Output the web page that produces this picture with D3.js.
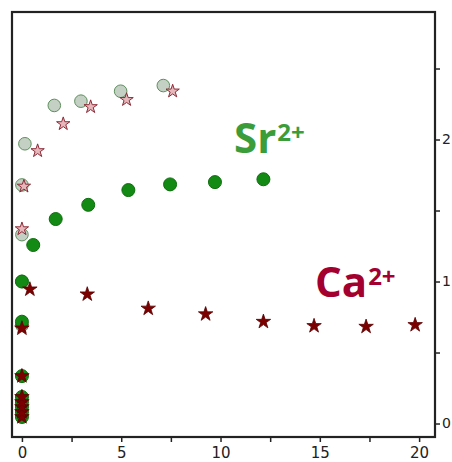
<!DOCTYPE html>
<html>
<head>
<meta charset="utf-8">
<script src="https://cdn.jsdelivr.net/npm/d3@7.9.0/dist/d3.min.js"></script>
<style>
  body { margin: 0; background: #fff; }
  svg { display: block; }
  .tick text { font-family: "DejaVu Sans", sans-serif; font-size: 15px; fill: #222; }
  .yaxis .tick text { font-size: 14px; }
  .tick line { stroke: #222; stroke-width: 1.5; }
</style>
</head>
<body>
<svg id="chart" width="452" height="462"></svg>
<script>
// light Sr points (grey circles)
const greyT = [0, 0, 0.15, 1.63, 2.97, 4.97, 7.12, 0, 0];
const greyV = [1.33, 1.68, 1.97, 2.24, 2.27, 2.34, 2.38, 1.0, 0.69];

// light Ca points (pink stars)
const pinkT = [0, 0.1, 0.79, 2.08, 3.46, 5.27, 7.59, 0];
const pinkV = [1.37, 1.67, 1.92, 2.11, 2.23, 2.28, 2.34, 0.68];

// Sr2+ (green circles)
const greenT = [0, 0, 0, 0, 0, 0, 0, 0, 0.57, 1.70, 3.34, 5.36, 7.46, 9.72, 12.16];
const greenV = [0.046, 0.081, 0.116, 0.151, 0.187, 0.334, 0.717, 1.0, 1.257, 1.44, 1.54, 1.644, 1.684, 1.70, 1.72];

// Ca2+ (dark red stars)
const redT = [0, 0, 0, 0, 0, 0, 0, 0.4, 3.29, 6.36, 9.25, 12.16, 14.71, 17.33, 19.8];
const redV = [0.046, 0.081, 0.116, 0.151, 0.187, 0.334, 0.67, 0.945, 0.91, 0.81, 0.77, 0.717, 0.687, 0.682, 0.694];

const xMajor = [0, 5, 10, 15, 20];
const xMinor = [2.5, 7.5, 12.5, 17.5];
const yMajor = [0, 1, 2];
const yMinor = [0.5, 1.5, 2.5];

const svg = d3.select('#chart');
const plotLeft = 12, plotRight = 435, plotTop = 12, plotBottom = 437;

const x = d3.scaleLinear().domain([-0.5, 20.8]).range([plotLeft, plotRight]);
const y = d3.scaleLinear().domain([-0.095, 2.898]).range([plotBottom, plotTop]);

// frame
svg.append('rect')
  .attr('x', plotLeft).attr('y', plotTop)
  .attr('width', plotRight - plotLeft).attr('height', plotBottom - plotTop)
  .attr('fill', 'none').attr('stroke', '#222').attr('stroke-width', 2.2);

// bottom axis
const gx = svg.append('g').attr('transform', `translate(0,${plotBottom})`);
gx.call(d3.axisBottom(x).tickValues(xMajor).tickSize(5).tickPadding(5));
gx.append('g').call(d3.axisBottom(x).tickValues(xMinor).tickSize(5).tickFormat(''));
gx.selectAll('.domain').remove();

// right axis
const gy = svg.append('g').attr('class', 'yaxis').attr('transform', `translate(${plotRight},0)`);
gy.call(d3.axisRight(y).tickValues(yMajor).tickSize(5).tickPadding(2));
gy.append('g').call(d3.axisRight(y).tickValues(yMinor).tickSize(5).tickFormat(''));
gy.selectAll('.domain').remove();

const star = (r) => d3.symbol().type(d3.symbolStar).size(r * r / 0.8908)();

// grey circles
svg.append('g').selectAll('circle')
  .data(d3.zip(greyT, greyV))
  .enter().append('circle')
  .attr('cx', d => x(d[0])).attr('cy', d => y(d[1]))
  .attr('r', 6.3)
  .attr('fill', '#c3d0c3').attr('stroke', '#5e8f5e').attr('stroke-width', 1);

// pink stars
svg.append('g').selectAll('path')
  .data(d3.zip(pinkT, pinkV))
  .enter().append('path')
  .attr('transform', d => `translate(${x(d[0])},${y(d[1])})`)
  .attr('d', star(7))
  .attr('fill', '#e6b7bb').attr('stroke', '#8c2a36').attr('stroke-width', 1);

// green circles
svg.append('g').selectAll('circle')
  .data(d3.zip(greenT, greenV))
  .enter().append('circle')
  .attr('cx', d => x(d[0])).attr('cy', d => y(d[1]))
  .attr('r', 6.5)
  .attr('fill', '#138a13').attr('stroke', '#0d6e0d').attr('stroke-width', 1);

// dark red stars
svg.append('g').selectAll('path')
  .data(d3.zip(redT, redV))
  .enter().append('path')
  .attr('transform', d => `translate(${x(d[0])},${y(d[1])})`)
  .attr('d', star(7.6))
  .attr('fill', '#7c0000').attr('stroke', '#5a0000').attr('stroke-width', 0.8);

// ion labels
function ionLabel(px, py, base, color) {
  const t = svg.append('text')
    .attr('x', px).attr('y', py)
    .attr('font-family', '"Open Sans", sans-serif')
    .attr('font-weight', 700)
    .attr('font-size', 42)
    .attr('fill', color);
  t.append('tspan').text(base);
  t.append('tspan').attr('font-size', 24).attr('dy', -11.5).attr('dx', 1).text('2+');
}
ionLabel(234, 152.5, 'Sr', '#3a9d3a');
ionLabel(315, 296.7, 'Ca', '#a3002f');
</script>
</body>
</html>
